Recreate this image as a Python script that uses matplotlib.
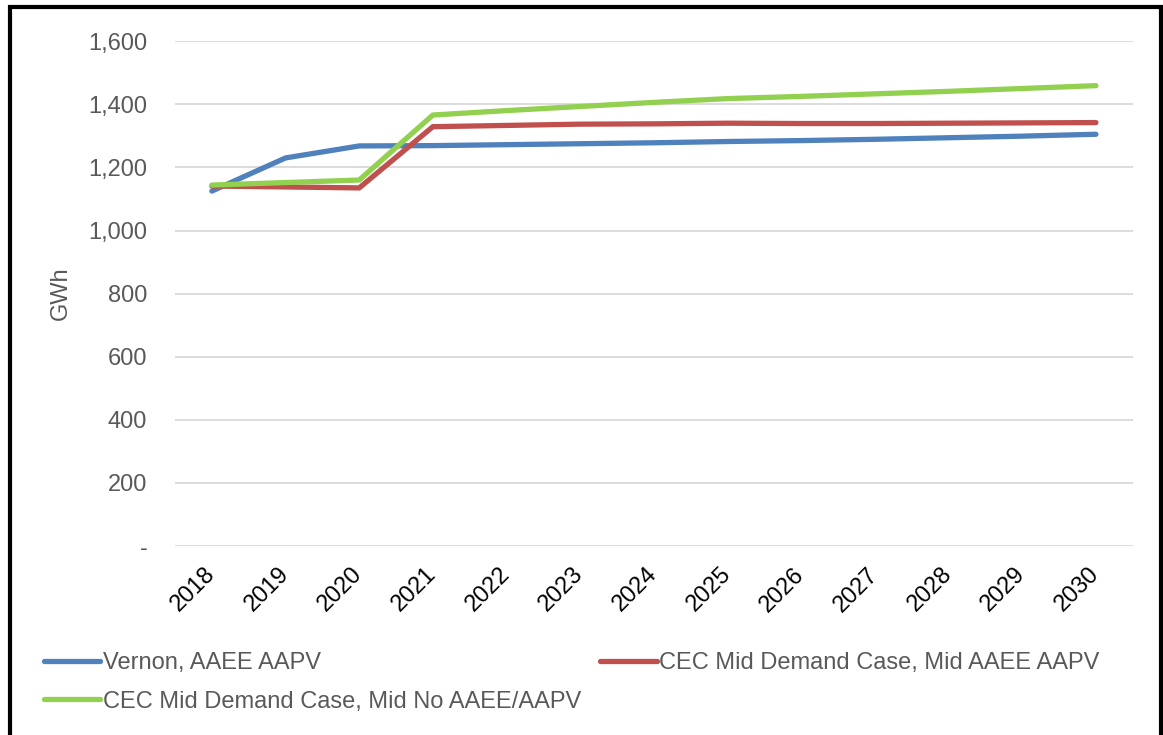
import matplotlib
matplotlib.use('Agg')
import matplotlib.pyplot as plt
from matplotlib import rcParams
from matplotlib.patches import Rectangle
from matplotlib.ticker import FuncFormatter

rcParams.update({'font.family': ['Liberation Sans', 'DejaVu Sans']})

# Annual energy forecast, GWh
years = [2018, 2019, 2020, 2021, 2022, 2023, 2024, 2025, 2026, 2027, 2028, 2029, 2030]
vernon = [1125, 1230, 1268, 1269, 1272, 1275, 1278, 1282, 1285, 1289, 1294, 1299, 1305]
cec_mid = [1141, 1138, 1135, 1329, 1333, 1337, 1338, 1340, 1339, 1339, 1340, 1341, 1342]
cec_no_aaee = [1144, 1152, 1160, 1366, 1380, 1393, 1406, 1418, 1425, 1433, 1441, 1450, 1459]

series_names = ['Vernon, AAEE AAPV',
                'CEC Mid Demand Case, Mid AAEE AAPV',
                'CEC Mid Demand Case, Mid No AAEE/AAPV']
colors = ['#4f81bd', '#c0504d', '#92d050']

fig = plt.figure(figsize=(11.63, 7.35), dpi=100)
ax = fig.add_axes([0.1505, 0.257, 0.8235, 0.687])

x = list(range(len(years)))
lines = []
for data, name, c in zip([vernon, cec_mid, cec_no_aaee], series_names, colors):
    ln, = ax.plot(x, data, color=c, lw=3.8, label=name, solid_capstyle='round',
                  solid_joinstyle='miter')
    lines.append(ln)

ax.set_xlim(-0.5, len(years) - 0.5)
ax.set_ylim(0, 1600)
ax.set_yticks(range(0, 1601, 200))
ax.yaxis.set_major_formatter(FuncFormatter(lambda v, p: '-' if v == 0 else '{:,.0f}'.format(v)))
ax.set_xticks(x)
ax.set_xticklabels([str(y) for y in years], rotation=45, ha='right',
                   rotation_mode='anchor', va='center', fontsize=17, color='black')
ax.tick_params(axis='y', length=0, pad=20, labelsize=17, labelcolor='#595959')
ax.tick_params(axis='x', length=0, pad=18)

ax.grid(axis='y', color='#d9d9d9', lw=1.3)
ax.set_axisbelow(True)
for s in ax.spines.values():
    s.set_visible(False)

ax.set_ylabel('GWh', fontsize=17, color='#595959')
ax.yaxis.set_label_coords(-0.108, 0.5)

# legend laid out row by row
order = [0, 2, 1]
fig.legend([lines[i] for i in order], [series_names[i] for i in order],
           loc='upper left', bbox_to_anchor=(0.0275, 0.129), ncol=2, frameon=False,
           fontsize=17, labelcolor='#595959', handlelength=2.4, handletextpad=0.1,
           columnspacing=0.8, borderpad=0, labelspacing=0.7)

# outer frame
fig.patches.append(Rectangle((9.5 / 1163, -0.05), 1151 / 1163, 1.05 - 7.5 / 735,
                             transform=fig.transFigure, fill=False, ec='black',
                             lw=3, clip_on=False))

fig.savefig('out.png', dpi=100)
